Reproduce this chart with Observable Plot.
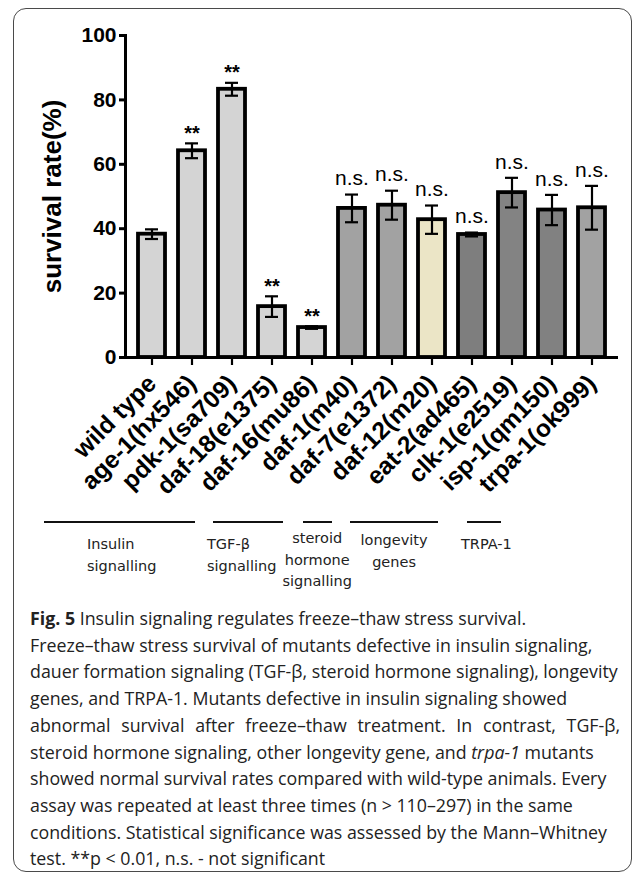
<!DOCTYPE html>
<html><head><meta charset="utf-8">
<script src="https://cdn.jsdelivr.net/npm/d3@7"></script>
<script src="https://cdn.jsdelivr.net/npm/@observablehq/plot@0.6"></script>
<style>
html,body{margin:0;padding:0;background:#fff;}
#fig{position:relative;width:633px;height:873px;overflow:hidden;background:#fff;}
#frame{position:absolute;left:13px;top:8px;width:619px;height:864px;border:1.5px solid #4a4a4a;border-radius:13px;box-sizing:border-box;}
#chart{position:absolute;left:0;top:0;}
.gline{position:absolute;height:2px;background:#111;top:521px;}
.glabel{position:absolute;font-family:"DejaVu Sans",sans-serif;font-size:14.5px;line-height:21.5px;color:#222;white-space:nowrap;}
#caption{position:absolute;left:30px;top:605px;width:590px;font-family:"Open Sans",sans-serif;font-size:17.8px;line-height:26.7px;color:#222;}
#caption div{white-space:nowrap;}
#caption div.just{text-align:justify;text-align-last:justify;}
</style></head>
<body>
<div id="fig">
  <div id="frame"></div>
  <div id="groups"></div>
  <div id="chart"></div>
  <div id="caption">
    <div><b>Fig. 5</b> Insulin signaling regulates freeze–thaw stress survival.</div>
    <div>Freeze–thaw stress survival of mutants defective in insulin signaling,</div>
    <div>dauer formation signaling (TGF-β, steroid hormone signaling), longevity</div>
    <div>genes, and TRPA-1. Mutants defective in insulin signaling showed</div>
    <div class="just">abnormal survival after freeze–thaw treatment. In contrast, TGF-β,</div>
    <div>steroid hormone signaling, other longevity gene, and <i>trpa-1</i> mutants</div>
    <div>showed normal survival rates compared with wild-type animals. Every</div>
    <div>assay was repeated at least three times (n &gt; 110–297) in the same</div>
    <div>conditions. Statistical significance was assessed by the Mann–Whitney</div>
    <div>test. **p &lt; 0.01, n.s. - not significant</div>
  </div>
</div>
<script>
// ---- data ----
const genotypes = ["wild type","age-1(hx546)","pdk-1(sa709)","daf-18(e1375)","daf-16(mu86)","daf-1(m40)","daf-7(e1372)","daf-12(m20)","eat-2(ad465)","clk-1(e2519)","isp-1(qm150)","trpa-1(ok999)"];
const survival = [38.3, 64.2, 83.3, 15.8, 9.3, 46.3, 47.3, 42.8, 38.2, 51.2, 45.8, 46.5];
const sem = [1.5, 2.3, 2.0, 3.2, 0.4, 4.3, 4.5, 4.4, 0.6, 4.6, 4.7, 6.8];
const significance = ["", "**", "**", "**", "**", "n.s.", "n.s.", "n.s.", "n.s.", "n.s.", "n.s.", "n.s."];
const yTicks = [0, 20, 40, 60, 80, 100];
const yLabel = "survival rate(%)";
const groupLabels = [["Insulin","signalling"],["TGF-β","signalling"],["steroid","hormone","signalling"],["longevity","genes"],["TRPA-1"]];

// ---- style ----
const barColors = ["#d4d4d4","#d4d4d4","#d4d4d4","#d4d4d4","#d4d4d4","#a2a2a2","#a2a2a2","#ebe5c6","#7e7e7e","#838383","#818181","#a2a2a2"];
const groupLayout = [
  {x1:44, x2:195, left:87, top:534, align:"left"},
  {x1:213, x2:283, left:207, top:534, align:"left"},
  {x1:303, x2:332, center:317, top:528, align:"center"},
  {x1:350, x2:438, center:394, top:530, align:"center"},
  {x1:467, x2:501, left:461, top:534, align:"left"}
];

const data = genotypes.map((g, i) => ({genotype: g, survival: survival[i], sem: sem[i], sig: significance[i]}));
const errTop = d => d.survival + d.sem;
const errBot = d => d.survival - d.sem;

const chart = Plot.plot({
  width: 633, height: 520,
  marginLeft: 125, marginRight: 15, marginTop: 35, marginBottom: 163,
  style: {fontFamily: "'Liberation Sans', Arial, sans-serif", background: "transparent", color: "#000", overflow: "visible"},
  x: {domain: genotypes, paddingInner: 0.32, paddingOuter: 0.226, label: null},
  y: {domain: [0, 100], label: null},
  color: {domain: genotypes, range: barColors},
  marks: [
    Plot.barY(data, {x: "genotype", y: "survival", fill: "genotype", stroke: "#000", strokeWidth: 3.8}),
    Plot.ruleX(data, {x: "genotype", y1: errBot, y2: errTop, stroke: "#000", strokeWidth: 2.2}),
    Plot.tickY(data, {x: "genotype", y: errTop, stroke: "#000", strokeWidth: 2.2, insetLeft: 7, insetRight: 7}),
    Plot.tickY(data, {x: "genotype", y: errBot, stroke: "#000", strokeWidth: 2.2, insetLeft: 7, insetRight: 7}),
    Plot.text(data.filter(d => d.sig === "**"), {x: "genotype", y: errTop, text: "sig", dy: -10, fontSize: 20, fontWeight: "bold"}),
    Plot.text(data.filter(d => d.sig === "n.s."), {x: "genotype", y: errTop, text: "sig", dy: -16, fontSize: 21}),
    Plot.ruleY([0], {stroke: "#000", strokeWidth: 3}),
    Plot.frame({anchor: "left", stroke: "#000", strokeWidth: 3}),
    Plot.axisY({ticks: yTicks, tickSize: 6, strokeWidth: 3, fontSize: 21, fontWeight: "bold", tickPadding: 3, label: null}),
    Plot.axisX({tickRotate: -45, tickSize: 8, strokeWidth: 2.2, fontSize: 24.5, fontWeight: "bold", tickPadding: 14, label: null}),
    Plot.text([yLabel], {frameAnchor: "left", textAnchor: "middle", rotate: -90, dx: -73, fontSize: 26, fontWeight: "bold"})
  ]
});
document.getElementById("chart").appendChild(chart);

const groups = document.getElementById("groups");
groupLabels.forEach((lines, i) => {
  const L = groupLayout[i];
  const line = document.createElement("div");
  line.className = "gline";
  line.style.left = L.x1 + "px";
  line.style.width = (L.x2 - L.x1) + "px";
  groups.appendChild(line);
  const lab = document.createElement("div");
  lab.className = "glabel";
  lab.style.top = L.top + "px";
  lab.style.textAlign = L.align;
  lab.innerHTML = lines.join("<br>");
  groups.appendChild(lab);
  if (L.align === "center") {
    lab.style.left = (L.center - lab.offsetWidth / 2) + "px";
  } else {
    lab.style.left = L.left + "px";
  }
});
</script>
</body></html>
